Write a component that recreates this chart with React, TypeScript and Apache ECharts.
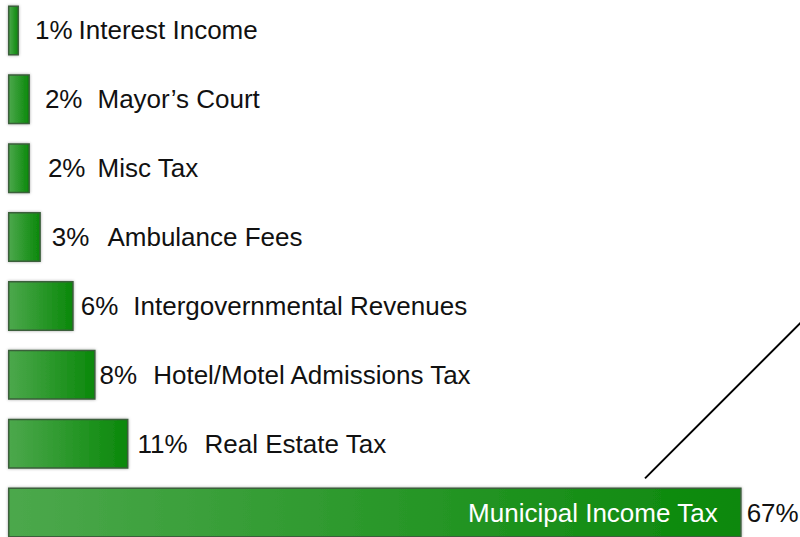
import React, { useEffect, useRef } from "react";
import * as echarts from "echarts";

const categories = [
  "Interest Income",
  "Mayor’s Court",
  "Misc Tax",
  "Ambulance Fees",
  "Intergovernmental Revenues",
  "Hotel/Motel Admissions Tax",
  "Real Estate Tax",
  "Municipal Income Tax",
];
const values = [1, 2, 2, 3, 6, 8, 11, 67];

// label styling (distance from bar end, gap between percent and name)
const labelDistances = [16, 15, 18, 11, 7, 4, 9];
const nameGaps = [6, 15, 12, 18, 15, 16, 17];

const FONT = "'Liberation Sans', Arial, Helvetica, sans-serif";
const FS = 26;
const SHIFT = 4.4;

export default function App() {
  const ref = useRef<HTMLDivElement>(null);
  useEffect(() => {
    document.body.style.margin = "0";
    document.body.style.overflow = "hidden";
    if (!ref.current) return;
    const chart = echarts.init(ref.current, undefined, { renderer: "svg" });
    const last = values.length - 1;
    const barFill = new echarts.graphic.LinearGradient(0, 0, 1, 0, [
      { offset: 0, color: "#4ca84c" },
      { offset: 1, color: "#0a880a" },
    ]);
    const mainData = values.map((v, i) => {
      if (i === last) {
        return {
          value: v,
          label: {
            show: true,
            position: "insideRight",
            distance: 24,
            formatter: categories[i],
            color: "#ffffff",
            fontSize: FS,
            fontFamily: FONT,
          },
        };
      }
      return {
        value: v,
        label: {
          show: true,
          position: "right",
          distance: labelDistances[i],
          formatter: `{p|${v}%}{n|${categories[i]}}`,
          rich: {
            p: { fontSize: FS, fontFamily: FONT, color: "#111" },
            n: {
              fontSize: FS,
              fontFamily: FONT,
              color: "#111",
              padding: [0, 0, 0, nameGaps[i]],
            },
          },
        },
      };
    });
    const overlayData = values.map((v, i) => ({
      value: v,
      label:
        i === last
          ? {
              show: true,
              position: "right",
              distance: 5,
              formatter: `${v}%`,
              color: "#111",
              fontSize: FS,
              fontFamily: FONT,
            }
          : { show: false },
    }));
    chart.setOption({
      animation: false,
      backgroundColor: "#ffffff",
      grid: { left: 8, top: 0, width: 766.5, height: 551 },
      xAxis: { type: "value", min: 0, max: 70, show: false },
      yAxis: {
        type: "category",
        data: categories,
        inverse: true,
        show: false,
      },
      series: [
        {
          type: "bar",
          data: mainData,
          barWidth: 50,
          itemStyle: {
            color: barFill,
            borderColor: "#3b5e3b",
            borderWidth: 1.5,
            shadowBlur: 3,
            shadowColor: "rgba(0,0,0,0.35)",
          },
          silent: true,
          z: 2,
        },
        {
          type: "bar",
          data: overlayData,
          barWidth: 50,
          barGap: "-100%",
          itemStyle: { color: "rgba(0,0,0,0)" },
          silent: true,
          z: 3,
        },
      ],
      graphic: [
        {
          type: "line",
          shape: { x1: 645, y1: 478 + SHIFT, x2: 806, y2: 317 + SHIFT },
          style: { stroke: "#000", lineWidth: 2 },
          z: 10,
        },
      ],
    });
    return () => chart.dispose();
  }, []);
  return (
    <div
      style={{
        width: 800,
        height: 537,
        overflow: "hidden",
        position: "relative",
        background: "#fff",
      }}
    >
      <div
        ref={ref}
        style={{
          position: "absolute",
          left: 0,
          top: -SHIFT,
          width: 800,
          height: 560,
        }}
      />
    </div>
  );
}
